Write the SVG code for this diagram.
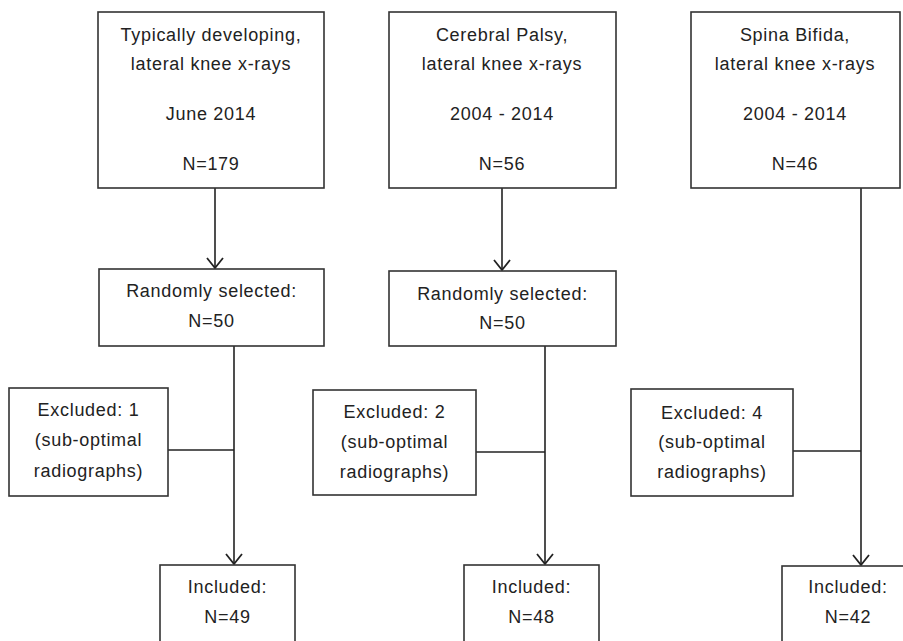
<svg xmlns="http://www.w3.org/2000/svg" width="903" height="641" viewBox="0 0 903 641">
<defs>
<style>
.box{fill:#fff;stroke:#333;stroke-width:1.6}
.t{font-family:"Liberation Sans",Arial,sans-serif;font-size:18px;letter-spacing:0.7px;fill:#222;text-anchor:middle}
.ln{stroke:#222;stroke-width:1.6;fill:none}
</style>
<marker id="arr" viewBox="0 0 20 20" refX="19" refY="10" markerWidth="20" markerHeight="20" markerUnits="userSpaceOnUse" orient="auto">
<path d="M9,2 L19,10 L9,18" fill="none" stroke="#222" stroke-width="1.8"/>
</marker>
</defs>
<rect width="903" height="641" fill="#fff"/>
<g id="connectors">
<line class="ln" x1="215" y1="188" x2="215" y2="268" marker-end="url(#arr)"/>
<line class="ln" x1="502" y1="188" x2="502" y2="270" marker-end="url(#arr)"/>
<line class="ln" x1="234" y1="346" x2="234" y2="564" marker-end="url(#arr)"/>
<line class="ln" x1="545" y1="346" x2="545" y2="564" marker-end="url(#arr)"/>
<line class="ln" x1="861" y1="188" x2="861" y2="565" marker-end="url(#arr)"/>
<line class="ln" x1="168" y1="450" x2="234" y2="450"/>
<line class="ln" x1="476" y1="452" x2="545" y2="452"/>
<line class="ln" x1="793" y1="451" x2="861" y2="451"/>
</g>
<g id="td">
<rect class="box" x="98" y="12" width="226" height="176"/>
<text class="t" x="211" y="41">Typically developing,</text>
<text class="t" x="211" y="70">lateral knee x-rays</text>
<text class="t" x="211" y="120">June 2014</text>
<text class="t" x="211" y="170">N=179</text>
</g>
<g id="cp">
<rect class="box" x="389" y="12" width="227" height="176"/>
<text class="t" x="502" y="41">Cerebral Palsy,</text>
<text class="t" x="502" y="70">lateral knee x-rays</text>
<text class="t" x="502" y="120">2004 - 2014</text>
<text class="t" x="502" y="170">N=56</text>
</g>
<g id="sb">
<rect class="box" x="691" y="12" width="209" height="176"/>
<text class="t" x="795" y="41">Spina Bifida,</text>
<text class="t" x="795" y="70">lateral knee x-rays</text>
<text class="t" x="795" y="120">2004 - 2014</text>
<text class="t" x="795" y="170">N=46</text>
</g>
<g id="rs1">
<rect class="box" x="99" y="269" width="225" height="77"/>
<text class="t" x="211.5" y="297">Randomly selected:</text>
<text class="t" x="211.5" y="327">N=50</text>
</g>
<g id="rs2">
<rect class="box" x="389" y="271" width="227" height="75"/>
<text class="t" x="502.5" y="300">Randomly selected:</text>
<text class="t" x="502.5" y="329">N=50</text>
</g>
<g id="ex1">
<rect class="box" x="9" y="388" width="159" height="108"/>
<text class="t" x="88.5" y="416">Excluded: 1</text>
<text class="t" x="88.5" y="446">(sub-optimal</text>
<text class="t" x="88.5" y="477">radiographs)</text>
</g>
<g id="ex2">
<rect class="box" x="313" y="390" width="163" height="105"/>
<text class="t" x="394.5" y="418">Excluded: 2</text>
<text class="t" x="394.5" y="448">(sub-optimal</text>
<text class="t" x="394.5" y="478">radiographs)</text>
</g>
<g id="ex4">
<rect class="box" x="631" y="389" width="162" height="107"/>
<text class="t" x="712" y="419">Excluded: 4</text>
<text class="t" x="712" y="448">(sub-optimal</text>
<text class="t" x="712" y="478">radiographs)</text>
</g>
<g id="in1">
<rect class="box" x="160" y="565" width="135" height="90"/>
<text class="t" x="227.5" y="593">Included:</text>
<text class="t" x="227.5" y="623">N=49</text>
</g>
<g id="in2">
<rect class="box" x="464" y="565" width="135" height="90"/>
<text class="t" x="531.5" y="593">Included:</text>
<text class="t" x="531.5" y="623">N=48</text>
</g>
<g id="in3">
<rect class="box" x="782" y="566" width="135" height="90"/>
<text class="t" x="848" y="593">Included:</text>
<text class="t" x="848" y="623">N=42</text>
</g>
</svg>
